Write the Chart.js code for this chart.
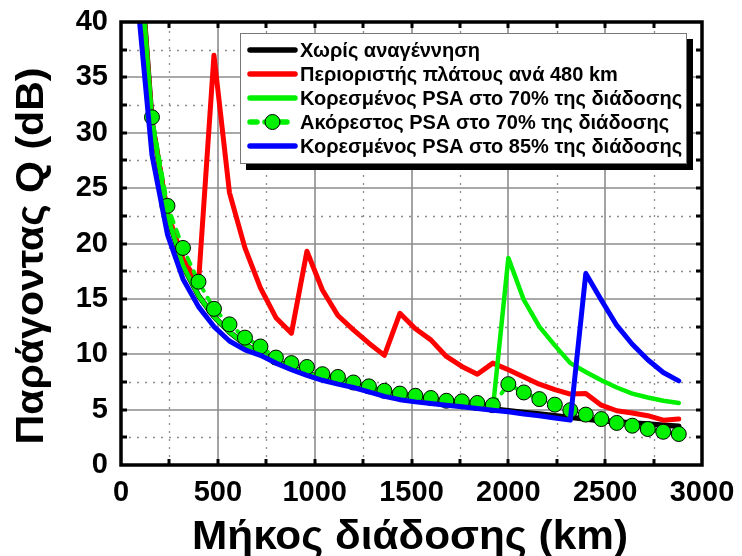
<!DOCTYPE html>
<html>
<head>
<meta charset="utf-8">
<script src="https://cdn.jsdelivr.net/npm/chart.js@4"></script>
<style>
  html, body { margin: 0; padding: 0; background: #fff; }
  #wrap { width: 742px; height: 556px; }
</style>
</head>
<body>
<div id="wrap"><canvas id="qchart" width="742" height="556"></canvas></div>
<script>
// αποστάσεις (km), ένα σημείο ανά 80 km
const distance = [80, 160, 240, 320, 400, 480, 560, 640, 720, 800, 880, 960, 1040, 1120, 1200, 1280, 1360, 1440,
  1520, 1600, 1680, 1760, 1840, 1920, 2000, 2080, 2160, 2240, 2320, 2400, 2480, 2560, 2640, 2720, 2800, 2880];

const noRegen = [50, 31, 22.5, 18, 15.3, 13.4, 12.0, 10.9, 10.1, 9.4, 8.8, 8.3, 7.85, 7.45, 7.1, 6.75, 6.45, 6.15,
  5.9, 5.7, 5.5, 5.35, 5.2, 5.05, 4.9, 4.75, 4.6, 4.45, 4.3, 4.15, 4.0, 3.9, 3.8, 3.7, 3.6, 3.5];

const limiter = [50, 31, 22.8, 18.6, 16.4, 37.0, 24.6, 19.6, 16.0, 13.3, 11.9, 19.3, 15.8, 13.5, 12.2, 11.0, 9.9, 13.7,
  12.3, 11.3, 9.8, 8.9, 8.2, 9.2, 8.6, 7.95, 7.3, 6.8, 6.4, 6.45, 5.4, 4.9, 4.7, 4.45, 4.05, 4.15];

const satPsa70 = [50, 31, 22.5, 18, 15.3, 13.4, 12.0, 10.9, 10.1, 9.4, 8.8, 8.3, 7.85, 7.45, 7.1, 6.75, 6.45, 6.15,
  5.9, 5.7, 5.5, 5.35, 5.2, 5.05, 18.7, 14.9, 12.5, 10.8, 9.2, 8.4, 7.65, 7.0, 6.45, 6.1, 5.8, 5.6];

const unsatPsa70 = [48, 31.4, 23.4, 19.6, 16.55, 14.1, 12.7, 11.5, 10.7, 9.7, 9.2, 8.85, 8.2, 7.95, 7.45, 7.1, 6.7, 6.45,
  6.25, 6.05, 5.8, 5.75, 5.6, 5.4, 7.3, 6.55, 5.95, 5.45, 4.95, 4.55, 4.15, 3.8, 3.55, 3.25, 3.0, 2.8];

const satPsa85 = [43, 28, 20.8, 16.8, 14.3, 12.5, 11.2, 10.4, 9.9, 9.2, 8.6, 8.1, 7.65, 7.3, 7.0, 6.6, 6.2, 5.9,
  5.7, 5.55, 5.4, 5.25, 5.1, 4.95, 4.8, 4.6, 4.45, 4.25, 4.05, 17.3, 14.9, 12.6, 10.9, 9.5, 8.35, 7.6];

const seriesNames = [
  'Χωρίς αναγέννηση',
  'Περιοριστής πλάτους ανά 480 km',
  'Κορεσμένος PSA στο 70% της διάδοσης',
  'Ακόρεστος PSA στο 70% της διάδοσης',
  'Κορεσμένος PSA στο 85% της διάδοσης'
];

const xTitle = 'Μήκος διάδοσης (km)';
const yTitle = 'Παράγοντας Q (dB)';

const xMin = 0, xMax = 3000, xStep = 500;
const yMin = 0, yMax = 40, yStep = 5;

const GREEN = '#00f000';
const font = "'Liberation Sans', Arial, sans-serif";

function pts(vals) {
  return distance.map((d, i) => ({ x: d, y: vals[i] }));
}

// κείμενο με τεντωμένο πλάτος (όπως στο αρχικό γράφημα)
function stretchedText(ctx, text, cx, baseY, size, width, rot) {
  ctx.save();
  ctx.font = 'bold ' + size + 'px ' + font;
  const w = ctx.measureText(text).width;
  ctx.translate(cx, baseY);
  if (rot) ctx.rotate(rot);
  ctx.scale(width / w, 1);
  ctx.textAlign = 'center';
  ctx.textBaseline = 'alphabetic';
  ctx.fillStyle = '#000';
  ctx.fillText(text, 0, 0);
  ctx.restore();
}

// πλέγμα, εσωτερικές υποδιαιρέσεις, πλαίσιο, τίτλοι και υπόμνημα
const framePlugin = {
  id: 'frame',
  beforeDatasetsDraw(chart) {
    const { ctx, chartArea: a, scales: { x, y } } = chart;
    ctx.save();
    ctx.strokeStyle = '#8c8c8c';
    ctx.lineWidth = 1.3;
    ctx.setLineDash([2, 6]);
    for (let v = xMin + xStep / 2; v < xMax; v += xStep) {
      const px = Math.round(x.getPixelForValue(v)) + 0.5;
      ctx.beginPath(); ctx.moveTo(px, a.bottom); ctx.lineTo(px, a.top); ctx.stroke();
    }
    for (let v = yMin + yStep / 2; v < yMax; v += yStep) {
      const py = Math.round(y.getPixelForValue(v)) + 0.5;
      ctx.beginPath(); ctx.moveTo(a.left, py); ctx.lineTo(a.right, py); ctx.stroke();
    }
    ctx.setLineDash([]);
    ctx.lineWidth = 1.6;
    for (let v = xMin + xStep; v < xMax; v += xStep) {
      const px = Math.round(x.getPixelForValue(v));
      ctx.beginPath(); ctx.moveTo(px, a.bottom); ctx.lineTo(px, a.top); ctx.stroke();
    }
    for (let v = yMin + yStep; v < yMax; v += yStep) {
      const py = Math.round(y.getPixelForValue(v));
      ctx.beginPath(); ctx.moveTo(a.left, py); ctx.lineTo(a.right, py); ctx.stroke();
    }
    ctx.restore();
  },
  afterDatasetsDraw(chart) {
    const { ctx, chartArea: a, scales: { x, y } } = chart;
    ctx.save();
    ctx.strokeStyle = '#000';
    ctx.lineWidth = 3;
    const tl = 6;
    for (let v = xMin + xStep / 2; v < xMax; v += xStep / 2) {
      const px = Math.round(x.getPixelForValue(v));
      ctx.beginPath();
      ctx.moveTo(px, a.bottom); ctx.lineTo(px, a.bottom - tl);
      ctx.moveTo(px, a.top); ctx.lineTo(px, a.top + tl);
      ctx.stroke();
    }
    for (let v = yMin + yStep / 2; v < yMax; v += yStep / 2) {
      const py = Math.round(y.getPixelForValue(v));
      ctx.beginPath();
      ctx.moveTo(a.left, py); ctx.lineTo(a.left + tl, py);
      ctx.moveTo(a.right, py); ctx.lineTo(a.right - tl, py);
      ctx.stroke();
    }
    ctx.lineWidth = 3.5;
    ctx.strokeRect(a.left, a.top, a.right - a.left, a.bottom - a.top);

    // τίτλοι αξόνων
    stretchedText(ctx, xTitle, 410, 549, 40, 436, 0);
    stretchedText(ctx, yTitle, 43, 256, 39, 377, -Math.PI / 2);

    // υπόμνημα
    const bx = 240, by = 33, bw = 446, bh = 130;
    ctx.fillStyle = '#000';
    ctx.fillRect(bx + 6, by + bh, bw, 7);
    ctx.fillRect(bx + bw, by + 6, 7, bh + 1);
    ctx.fillStyle = '#fff';
    ctx.fillRect(bx, by, bw, bh);
    ctx.strokeStyle = '#777';
    ctx.lineWidth = 1;
    ctx.strokeRect(bx + 0.5, by + 0.5, bw, bh);

    ctx.font = 'bold 20px ' + font;
    ctx.textBaseline = 'middle';
    ctx.textAlign = 'left';
    chart.data.datasets.forEach((ds, i) => {
      const ry = by + 17 + i * 24;
      const x0 = bx + 10, x1 = bx + 55;
      ctx.lineCap = 'round';
      ctx.strokeStyle = ds.borderColor;
      ctx.lineWidth = 5.5;
      ctx.setLineDash(ds.borderDash || []);
      ctx.beginPath(); ctx.moveTo(x0, ry); ctx.lineTo(x1, ry); ctx.stroke();
      ctx.setLineDash([]);
      if (ds.pointRadius > 0) {
        ctx.fillStyle = ds.pointBackgroundColor;
        ctx.strokeStyle = '#000';
        ctx.lineWidth = 1;
        ctx.beginPath(); ctx.arc((x0 + x1) / 2, ry, 7.5, 0, Math.PI * 2); ctx.fill(); ctx.stroke();
      }
      ctx.fillStyle = '#000';
      ctx.fillText(ds.label, x1 + 5, ry + 1);
    });
    ctx.restore();
  }
};

new Chart(document.getElementById('qchart').getContext('2d'), {
  type: 'line',
  data: {
    datasets: [
      { label: seriesNames[0], data: pts(noRegen), borderColor: '#000', borderWidth: 5.5, pointRadius: 0, order: 5 },
      { label: seriesNames[1], data: pts(limiter), borderColor: '#ff0000', borderWidth: 5, pointRadius: 0, order: 4 },
      { label: seriesNames[2], data: pts(satPsa70), borderColor: GREEN, borderWidth: 4.5, pointRadius: 0, order: 3 },
      { label: seriesNames[3], data: pts(unsatPsa70), borderColor: GREEN, borderWidth: 4, borderDash: [7, 8],
        pointRadius: 7.5, pointBackgroundColor: GREEN, pointBorderColor: '#000', pointBorderWidth: 1, order: 2 },
      { label: seriesNames[4], data: pts(satPsa85), borderColor: '#0000ff', borderWidth: 5, pointRadius: 0, order: 1 }
    ]
  },
  options: {
    responsive: false,
    animation: false,
    events: [],
    layout: { padding: { left: 0, top: 22, right: 40, bottom: 0 } },
    elements: { line: { tension: 0, borderJoinStyle: 'round', borderCapStyle: 'round' } },
    plugins: { legend: { display: false }, tooltip: { enabled: false } },
    scales: {
      x: {
        type: 'linear', min: xMin, max: xMax,
        grid: { display: false, drawTicks: false },
        border: { display: false },
        afterFit(s) { s.height = 91; s.paddingLeft = 0; s.paddingRight = 0; },
        ticks: { stepSize: xStep, color: '#000', padding: 11, maxRotation: 0,
          callback: v => String(v),
          font: { family: font, size: 29, weight: 'bold' } }
      },
      y: {
        min: yMin, max: yMax,
        grid: { display: false, drawTicks: false },
        border: { display: false },
        afterFit(s) { s.width = 121; s.paddingTop = 0; s.paddingBottom = 0; },
        ticks: { stepSize: yStep, color: '#000', padding: 13,
          callback: v => String(v),
          font: { family: font, size: 29, weight: 'bold' } }
      }
    }
  },
  plugins: [framePlugin]
});
</script>
</body>
</html>
